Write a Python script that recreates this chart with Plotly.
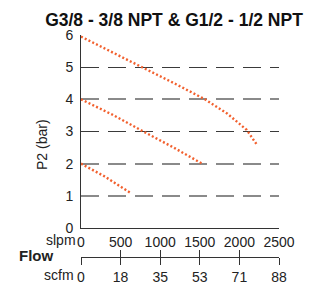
import plotly.graph_objects as go

title = "G3/8 - 3/8 NPT & G1/2 - 1/2 NPT"

# Flow (slpm) and outlet pressure P2 (bar) for three inlet pressures
flow_6 = [0, 370, 745, 1200, 1566, 1850, 2092, 2218]
p2_6 = [5.95, 5.5, 5.03, 4.47, 4.0, 3.55, 3.05, 2.6]
flow_4 = [0, 400, 787, 1170, 1544]
p2_4 = [4.0, 3.52, 3.0, 2.5, 1.98]
flow_2 = [0, 300, 619]
p2_2 = [2.0, 1.6, 1.1]

slpm_ticks = [0, 500, 1000, 1500, 2000, 2500]
slpm_labels = ["0", "500", "1000", "1500", "2000", "2500"]
scfm_labels = ["0", "18", "35", "53", "71", "88"]
y_ticks = [0, 1, 2, 3, 4, 5, 6]
y_labels = ["0", "1", "2", "3", "4", "5", "6"]
grid_light = [1, 2, 4, 6]
grid_dark = [3, 5]

FONT = "Liberation Sans, Arial, sans-serif"
ORANGE = "#f2602e"
OFF = 8  # default page body margin

fig = go.Figure()
for fx, py_ in [(flow_6, p2_6), (flow_4, p2_4), (flow_2, p2_2)]:
    fig.add_trace(go.Scatter(x=fx, y=py_, mode="lines",
                             line=dict(color=ORANGE, width=2.4, dash="2px,2.2px"),
                             showlegend=False, hoverinfo="skip"))

ydom0 = (257 - 228) / 222
W, H = 315 - OFF, 284 - OFF

fig.update_layout(
    width=W, height=H,
    margin=dict(l=81 - OFF, r=36, t=35 - OFF, b=27, autoexpand=False),
    paper_bgcolor="white", plot_bgcolor="white",
    font=dict(family=FONT, size=14, color="#222"),
    title=dict(text="<b>" + title + "</b>", x=(174 - OFF) / W, xref="container", xanchor="center",
               y=1 - (20 - OFF) / H, yref="container", yanchor="middle",
               font=dict(size=17.5, color="#111", family=FONT)),
    xaxis=dict(range=[0, 2500], tickvals=slpm_ticks, ticktext=slpm_labels, automargin=False,
               showgrid=False, zeroline=False, showline=True, linecolor="#333", linewidth=1,
               ticks="outside", ticklen=1, tickcolor="rgba(0,0,0,0)",
               tickfont=dict(size=14, color="#222"), fixedrange=True),
    xaxis2=dict(range=[0, 2500], overlaying="x", anchor="free", position=0, side="bottom",
                tickvals=slpm_ticks, ticktext=scfm_labels, automargin=False,
                showgrid=False, zeroline=False, showline=True, linecolor="#333", linewidth=1,
                ticks="outside", ticklen=7, tickcolor="#333", tickwidth=1,
                tickfont=dict(size=14, color="#222")),
    xaxis3=dict(range=[0, 2500], overlaying="x", anchor="free", position=0, side="bottom",
                tickvals=slpm_ticks, showticklabels=False, automargin=False,
                showgrid=False, zeroline=False, showline=False,
                ticks="inside", ticklen=7, tickcolor="#333", tickwidth=1),
    yaxis=dict(range=[0, 6], domain=[ydom0, 1], tickvals=y_ticks, ticktext=y_labels,
               automargin=False,
               showgrid=False, zeroline=False, showline=True, linecolor="#333", linewidth=1,
               ticks="outside", ticklen=4, tickcolor="rgba(0,0,0,0)",
               tickfont=dict(size=14, color="#222")),
    yaxis2=dict(range=[0, 6], domain=[ydom0, 1], overlaying="y", tickvals=grid_light,
                showticklabels=False, showgrid=True, gridcolor="#8a8a8a", gridwidth=1.5,
                griddash="18px,9px", zeroline=False, showline=False, automargin=False),
    yaxis3=dict(range=[0, 6], domain=[ydom0, 1], overlaying="y", tickvals=grid_dark,
                showticklabels=False, showgrid=True, gridcolor="#3a3a3a", gridwidth=1.3,
                griddash="18px,9px", zeroline=False, showline=False, automargin=False),
)

# dummy traces to activate the extra axes
fig.add_trace(go.Scatter(x=[None], y=[None], xaxis="x2", yaxis="y2", showlegend=False))
fig.add_trace(go.Scatter(x=[None], y=[None], xaxis="x3", yaxis="y3", showlegend=False))

def px(xp):
    return (xp - 81) / 198

def py(yp):
    return (257 - yp) / 222

ann = [
    dict(text="slpm", x=px(78), y=py(240), xanchor="right", yanchor="middle"),
    dict(text="<b>Flow</b>", x=px(17), y=py(255), xanchor="left", yanchor="middle", font=dict(size=15)),
    dict(text="scfm", x=px(76), y=py(275), xanchor="right", yanchor="middle"),
    dict(text="P2 (bar)", x=px(42), y=py(145), xanchor="center", yanchor="middle", textangle=-90),
]
for a in ann:
    fig.add_annotation(xref="paper", yref="paper", showarrow=False,
                       font=a.pop("font", dict(size=14, color="#222")), **a)

# keep the data traces above the grid axes
fig.data = fig.data[3:] + fig.data[:3]

fig.write_html("out.html")
